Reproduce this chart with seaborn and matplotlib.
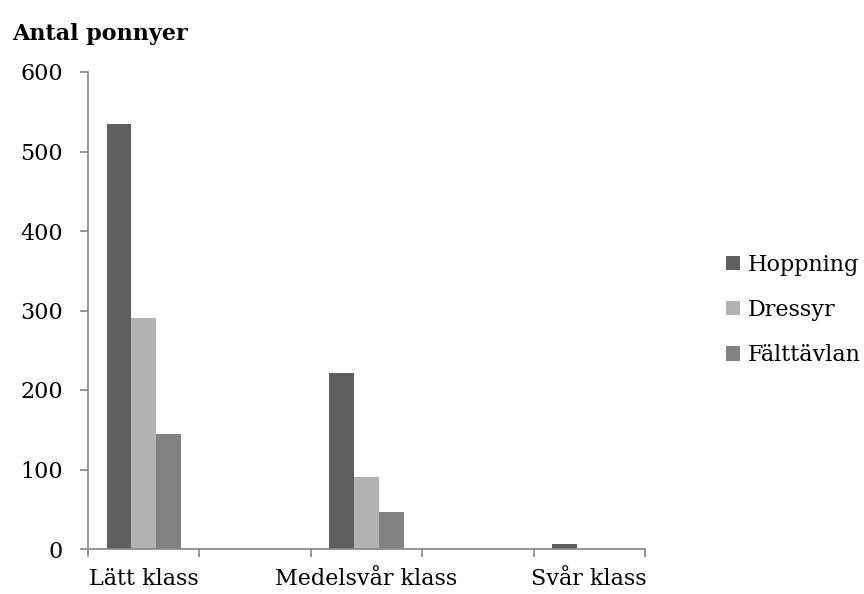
import matplotlib
matplotlib.use("Agg")
import matplotlib.pyplot as plt
import seaborn as sns
import pandas as pd
import numpy as np

# Category slots along the x axis (blank slots separate the classes)
categories = ["Lätt klass", " ", "Medelsvår klass", "  ", "Svår klass"]
series = ["Hoppning", "Dressyr", "Fälttävlan"]
hoppning = [534, np.nan, 221, np.nan, 6]
dressyr = [291, np.nan, 91, np.nan, 0]
falttavlan = [145, np.nan, 46, np.nan, 0]
yticks = [0, 100, 200, 300, 400, 500, 600]
colors = ["#5f5f5f", "#b3b3b3", "#828282"]

rows = []
for name, vals in zip(series, [hoppning, dressyr, falttavlan]):
    for cat, v in zip(categories, vals):
        rows.append({"Klass": cat, "Gren": name, "Antal": v})
df = pd.DataFrame(rows)

sns.set_theme(style="white")
plt.rcParams["font.family"] = ["DejaVu Serif"]
plt.rcParams["text.color"] = "black"

fig = plt.figure(figsize=(8.64, 5.94), dpi=100)
ax = fig.add_axes([88 / 864, 45 / 594, (645 - 88) / 864, (549 - 72) / 594])

sns.barplot(data=df, x="Klass", y="Antal", hue="Gren", order=categories,
            hue_order=series, palette=colors, width=0.667, gap=0,
            linewidth=0, saturation=1, errorbar=None, ax=ax)

axis_grey = "#8c8c8c"
ax.set_xlim(-0.5, len(categories) - 0.5)
ax.set_ylim(0, 600)
ax.set_yticks(yticks)
ax.set_yticklabels([str(t) for t in yticks])
ax.set_xlabel("")
ax.set_ylabel("")

for side in ["top", "right"]:
    ax.spines[side].set_visible(False)
for side in ["left", "bottom"]:
    ax.spines[side].set_color(axis_grey)
    ax.spines[side].set_linewidth(1.3)

fs = 16
ax.tick_params(axis="y", direction="out", length=6, width=1.3, color=axis_grey,
               labelsize=fs, labelcolor="black", pad=12, left=True)
# category labels at slot centres, tick marks at slot boundaries
ax.set_xticks(range(len(categories)))
ax.set_xticklabels(categories)
ax.tick_params(axis="x", which="major", length=0, labelsize=fs, labelcolor="black", pad=14)
ax.set_xticks(np.arange(-0.5, len(categories), 1.0), minor=True)
ax.tick_params(axis="x", which="minor", direction="out", length=6, width=1.3,
               color=axis_grey, bottom=True)

handles, labels = ax.get_legend_handles_labels()
ax.legend_.remove()
fig.legend(handles, labels, loc="center left", bbox_to_anchor=(726 / 864, 1 - 310 / 594),
           frameon=False, fontsize=fs, handlelength=0.62, handleheight=0.62,
           handletextpad=0.35, labelspacing=1.05, borderaxespad=0, borderpad=0)

fig.text(12 / 864, 1 - 40 / 594, "Antal ponnyer", fontsize=fs, fontweight="bold",
         ha="left", va="baseline")

fig.savefig("out.png", dpi=100)
